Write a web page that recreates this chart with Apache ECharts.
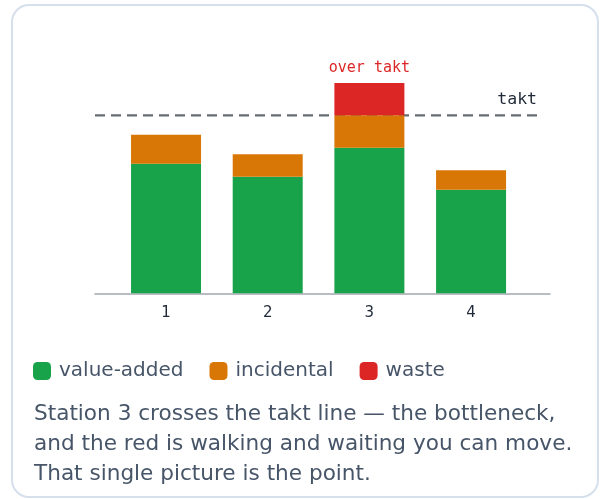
<!DOCTYPE html>
<html>
<head>
<meta charset="utf-8">
<script src="https://cdn.jsdelivr.net/npm/echarts@6/dist/echarts.min.js"></script>
<style>
  html, body { margin: 0; padding: 0; background: #ffffff; width: 606px; height: 499px; overflow: hidden; }
  #card { position: absolute; left: 11px; top: 4px; width: 588px; height: 494px; box-sizing: border-box;
          border: 2px solid #d6e0ec; border-radius: 18px; background: #fff; }
  #chart { position: absolute; left: 0; top: 0; width: 606px; height: 499px; }
  #caption { position: absolute; left: 34px; top: 398px; width: 566px; font-family: "DejaVu Sans", sans-serif;
             font-size: 21.6px; line-height: 30px; color: #475569; white-space: nowrap; }
</style>
</head>
<body>
<div id="card"></div>
<div id="chart"></div>
<div id="caption">Station 3 crosses the takt line — the bottleneck,<br>and the red is walking and waiting you can move.<br>That single picture is the point.</div>
<script>
const stations = ['1', '2', '3', '4'];
const valueAdded = [40, 36, 45, 32];
const incidental = [9, 7, 10, 6];
const waste = [0, 0, 10, 0];
const taktTime = 55;
const seriesNames = ['value-added', 'incidental', 'waste'];
const taktLabel = 'takt';
const overLabel = 'over takt';
const yMax = 70;

const colors = ['#18a34a', '#d97706', '#dc2626'];
const gTop = 66.8, gHeight = 226.5;

const chart = echarts.init(document.getElementById('chart'), null, { renderer: 'canvas' });
chart.setOption({
  animation: false,
  grid: [
    { left: 95, width: 442, top: gTop, height: gHeight },
    { left: 115.2, width: 406.7, top: gTop, height: gHeight },
    { left: 95, width: 455, top: gTop, height: gHeight }
  ],
  xAxis: [
    { gridIndex: 0, type: 'value', min: 0, max: 1, show: false },
    { gridIndex: 1, type: 'category', data: stations,
      axisLine: { show: false }, axisTick: { show: false },
      axisLabel: { fontFamily: 'DejaVu Sans', fontSize: 15, color: '#1f2937', margin: 12 } },
    { gridIndex: 2, type: 'value', min: 0, max: 1,
      axisLine: { show: true, lineStyle: { color: '#a3a8b0', width: 1.6 } },
      axisTick: { show: false }, axisLabel: { show: false }, splitLine: { show: false } }
  ],
  yAxis: [
    { gridIndex: 0, type: 'value', min: 0, max: yMax, show: false },
    { gridIndex: 1, type: 'value', min: 0, max: yMax, show: false },
    { gridIndex: 2, type: 'value', min: 0, max: yMax, show: false, splitLine: { show: false } }
  ],
  legend: {
    left: 33, top: 361, padding: 0,
    data: seriesNames,
    icon: 'roundRect',
    itemWidth: 18, itemHeight: 18, itemGap: 26,
    textStyle: { fontFamily: 'DejaVu Sans', fontSize: 20, color: '#475569', padding: [0, 0, 0, 3] }
  },
  series: [
    { type: 'line', xAxisIndex: 0, yAxisIndex: 0, silent: true, z: 1,
      symbol: 'none',
      lineStyle: { color: '#666c74', width: 2.3, type: [10, 6] },
      data: [[0, taktTime], [1, taktTime]],
      markLine: {
        silent: true, symbol: ['none', 'none'],
        lineStyle: { color: 'rgba(0,0,0,0)', width: 0 },
        label: { show: true, position: 'insideEndTop', formatter: taktLabel, distance: [0, 7],
                 fontFamily: 'DejaVu Sans Mono', fontSize: 16.5, color: '#1f2937' },
        data: [{ yAxis: taktTime }]
      } },
    { type: 'line', xAxisIndex: 2, yAxisIndex: 2, data: [], silent: true, z: 1 },
    { name: seriesNames[0], type: 'bar', stack: 'st', xAxisIndex: 1, yAxisIndex: 1, barWidth: 70, z: 10,
      itemStyle: { color: colors[0] }, data: valueAdded },
    { name: seriesNames[1], type: 'bar', stack: 'st', xAxisIndex: 1, yAxisIndex: 1, barWidth: 70, z: 10,
      itemStyle: { color: colors[1] }, data: incidental },
    { name: seriesNames[2], type: 'bar', stack: 'st', xAxisIndex: 1, yAxisIndex: 1, barWidth: 70, z: 10,
      itemStyle: { color: colors[2] }, data: waste,
      label: { show: true, position: 'top', distance: 7, fontFamily: 'DejaVu Sans Mono', fontSize: 15,
               color: '#dc2626', formatter: p => (p.value > 0 ? overLabel : '') } }
  ]
});
</script>
</body>
</html>
